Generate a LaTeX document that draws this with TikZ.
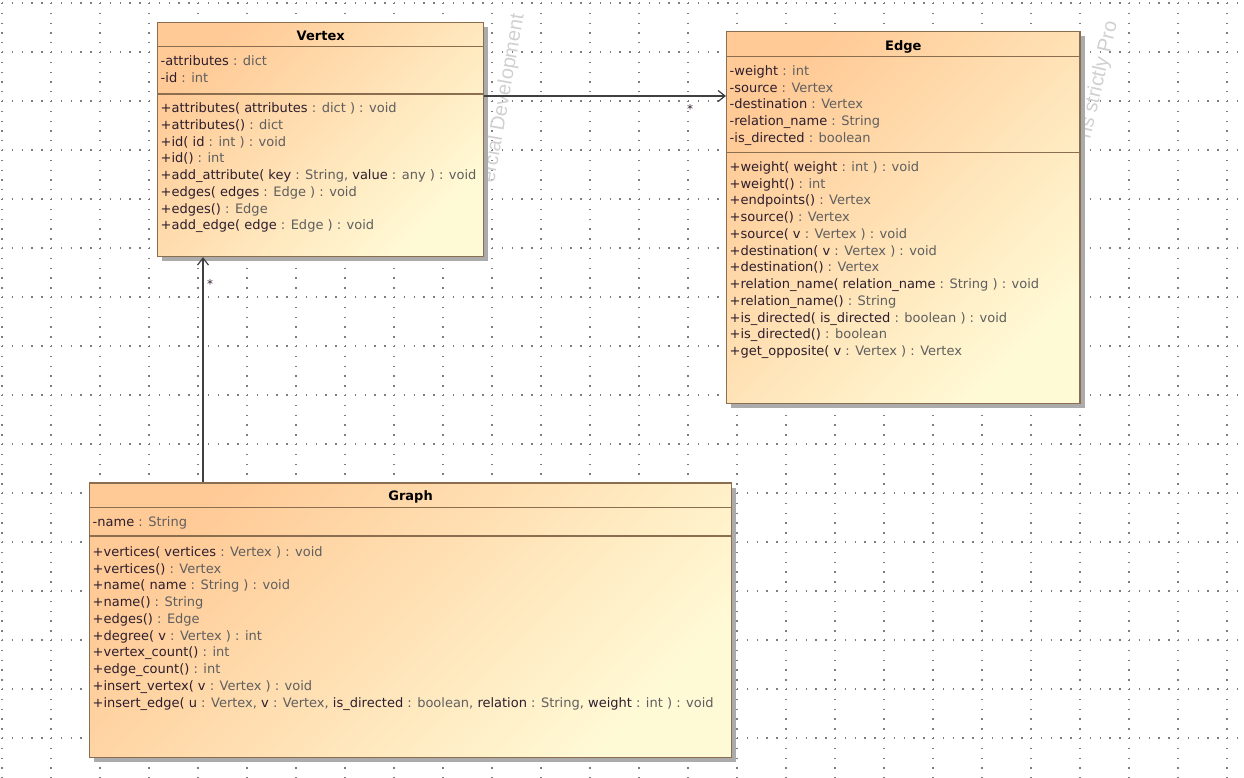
\documentclass[tikz,border=0pt]{standalone}
\usepackage{fontspec}
\newfontfamily\umlfont{DejaVu Sans}
\newfontfamily\markfont{Liberation Sans}
\usetikzlibrary{arrows.meta,shadows}
\definecolor{peach}{RGB}{255,202,150}
\definecolor{cream}{RGB}{255,250,214}
\definecolor{umlborder}{RGB}{139,110,80}
\definecolor{umltext}{RGB}{45,30,45}
\definecolor{umltype}{RGB}{95,95,95}
\definecolor{umlline}{RGB}{64,64,64}
\definecolor{griddot}{RGB}{125,125,125}
\definecolor{markgray}{RGB}{208,208,208}
\newcommand{\typ}[1]{\textcolor{umltype}{#1}}
\tikzset{
  classbox/.style={draw=umlborder,line width=1.4pt,top color=peach,bottom color=cream,
    shading angle=45,anchor=north west,inner sep=0pt,
    drop shadow={shadow xshift=4.5pt,shadow yshift=-4.5pt,fill=black!33,opacity=1}},
  sepline/.style={draw=umlborder,line width=1.2pt},
  classname/.style={anchor=base,inner sep=0pt,text=black,
    font=\umlfont\bfseries\fontsize{13pt}{15pt}\selectfont},
  members/.style={anchor=north west,inner sep=0pt,align=left,text=umltext,
    font=\umlfont\fontsize{13pt}{16.75pt}\selectfont,
    execute at begin node={\rule{0pt}{10pt}}},
  assoc/.style={draw=umlline,line width=1.2pt,
    -{Straight Barb[length=7pt,width=11pt,line width=1.2pt]}},
  mult/.style={inner sep=0pt,text=umltext,font=\umlfont\fontsize{12pt}{12pt}\selectfont},
  griddots/.style={draw=griddot,line width=1.3pt,dash pattern=on 1.3pt off 8.5pt},
  watermark/.style={anchor=base west,inner sep=0pt,text=markgray,
    font=\markfont\fontsize{20pt}{20pt}\selectfont},
}
\begin{document}
\begin{tikzpicture}[x=1pt,y=-1pt]
  \useasboundingbox (0,0) rectangle (1244,778);
  % dotted grid
  \foreach \gx in {0,...,25} \draw[griddots] (2+49*\gx,3) -- (2+49*\gx,778);
  \foreach \gy in {0,...,15} \draw[griddots] (2,3+49*\gy) -- (1244,3+49*\gy);
  \node[watermark,rotate=80] (mark-a) at (494,184) {ercial Development};
  \node[watermark,rotate=77] (mark-b) at (1090,140) {ns strictly Pro};

  % Vertex
  \node[classbox,minimum width=326pt,minimum height=234pt] (vertex) at (157,21.7) {};
  \draw[sepline] ([yshift=-25pt]vertex.north west) -- ([yshift=-25pt]vertex.north east);
  \draw[sepline] ([yshift=-72.3pt]vertex.north west) -- ([yshift=-72.3pt]vertex.north east);
  \node[classname] (vertex-name) at ([yshift=-19pt]vertex.north) {Vertex};
  \node[members] (vertex-attr) at ([xshift=3.5pt,yshift=-33.5pt]vertex.north west)
    {-attributes \typ{: dict}\\-id \typ{: int}};
  \node[members] (vertex-ops) at ([xshift=3.5pt,yshift=-80.8pt]vertex.north west)
    {+attributes( attributes \typ{: dict ) : void}\\
     +attributes() \typ{: dict}\\
     +id( id \typ{: int ) : void}\\
     +id() \typ{: int}\\
     +add\_attribute( key \typ{: String,} value \typ{: any ) : void}\\
     +edges( edges \typ{: Edge ) : void}\\
     +edges() \typ{: Edge}\\
     +add\_edge( edge \typ{: Edge ) : void}};

  % Edge
  \node[classbox,minimum width=353.3pt,minimum height=371.7pt] (edge) at (726,31) {};
  \draw[sepline] ([yshift=-25.7pt]edge.north west) -- ([yshift=-25.7pt]edge.north east);
  \draw[sepline] ([yshift=-121.7pt]edge.north west) -- ([yshift=-121.7pt]edge.north east);
  \node[classname] (edge-name) at ([yshift=-19.3pt]edge.north) {Edge};
  \node[members] (edge-attr) at ([xshift=3.5pt,yshift=-34.2pt]edge.north west)
    {-weight \typ{: int}\\
     -source \typ{: Vertex}\\
     -destination \typ{: Vertex}\\
     -relation\_name \typ{: String}\\
     -is\_directed \typ{: boolean}};
  \node[members] (edge-ops) at ([xshift=3.5pt,yshift=-130.2pt]edge.north west)
    {+weight( weight \typ{: int ) : void}\\
     +weight() \typ{: int}\\
     +endpoints() \typ{: Vertex}\\
     +source() \typ{: Vertex}\\
     +source( v \typ{: Vertex ) : void}\\
     +destination( v \typ{: Vertex ) : void}\\
     +destination() \typ{: Vertex}\\
     +relation\_name( relation\_name \typ{: String ) : void}\\
     +relation\_name() \typ{: String}\\
     +is\_directed( is\_directed \typ{: boolean ) : void}\\
     +is\_directed() \typ{: boolean}\\
     +get\_opposite( v \typ{: Vertex ) : Vertex}};

  % Graph
  \node[classbox,minimum width=641.7pt,minimum height=274.4pt] (graph) at (89,482.3) {};
  \draw[sepline] ([yshift=-25.4pt]graph.north west) -- ([yshift=-25.4pt]graph.north east);
  \draw[sepline] ([yshift=-53.7pt]graph.north west) -- ([yshift=-53.7pt]graph.north east);
  \node[classname] (graph-name) at ([yshift=-18.6pt]graph.north) {Graph};
  \node[members] (graph-attr) at ([xshift=3.5pt,yshift=-33.9pt]graph.north west)
    {-name \typ{: String}};
  \node[members] (graph-ops) at ([xshift=3.5pt,yshift=-64pt]graph.north west)
    {+vertices( vertices \typ{: Vertex ) : void}\\
     +vertices() \typ{: Vertex}\\
     +name( name \typ{: String ) : void}\\
     +name() \typ{: String}\\
     +edges() \typ{: Edge}\\
     +degree( v \typ{: Vertex ) : int}\\
     +vertex\_count() \typ{: int}\\
     +edge\_count() \typ{: int}\\
     +insert\_vertex( v \typ{: Vertex ) : void}\\
     +insert\_edge( u \typ{: Vertex,} v \typ{: Vertex,} is\_directed \typ{: boolean,} relation \typ{: String,} weight \typ{: int ) : void}};

  % associations
  \coordinate (ve-from) at ([yshift=-74.3pt]vertex.north east);
  \coordinate (ve-to) at ([yshift=-65pt]edge.north west);
  \draw[assoc] (ve-from) -- (ve-to);
  \node[mult] (ve-mult) at ([xshift=-36pt,yshift=-13.5pt]ve-to) {*};
  \coordinate (gv-from) at ([xshift=114pt]graph.north west);
  \coordinate (gv-to) at ([xshift=46pt]vertex.south west);
  \draw[assoc] (gv-from) -- (gv-to);
  \node[mult] (gv-mult) at ([xshift=7pt,yshift=-26.5pt]gv-to) {*};
\end{tikzpicture}
\end{document}
